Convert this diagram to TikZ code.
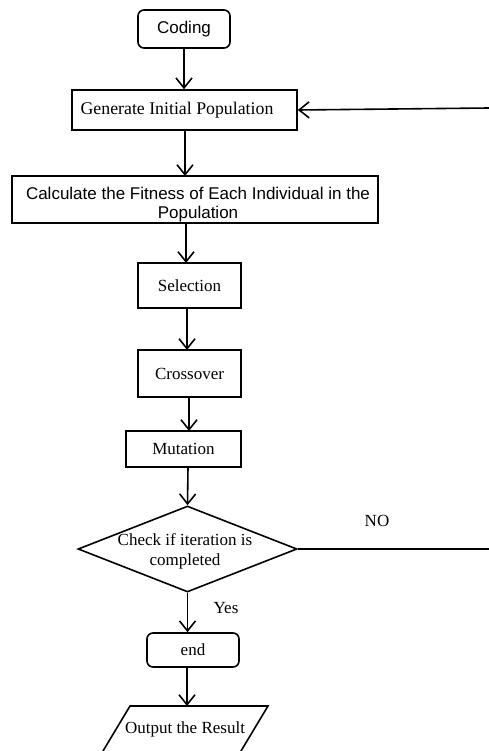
\documentclass[tikz,border=0pt]{standalone}
\usepackage{fontspec}
\setmainfont{Liberation Serif}
\setsansfont{Liberation Sans}
\usetikzlibrary{arrows.meta,shapes.geometric}
\begin{document}
\begin{tikzpicture}[x=1pt,y=-1pt,
  line width=1.6pt,
  arr/.style={-{Straight Barb[length=10pt,width=16pt,line width=1.6pt]}},
  serifbox/.style={draw,rectangle,inner sep=0pt,font=\fontsize{17}{20}\selectfont},
  sansbox/.style={draw,rectangle,inner sep=0pt,font=\sffamily\fontsize{17}{20}\selectfont},
  txt/.style={inner sep=0pt,align=center,font=\fontsize{17}{20}\selectfont},
  stxt/.style={inner sep=0pt,align=center,font=\sffamily\fontsize{17}{19}\selectfont}]
\useasboundingbox (0,0) rectangle (489,751);

% process boxes
\node[sansbox,rounded corners=6pt,minimum width=92pt,minimum height=38pt] (coding) at (184,29) {Coding};
\node[draw,rectangle,minimum width=225pt,minimum height=40pt] (gen) at (184.5,110) {};
\node[txt,font=\fontsize{17.8}{20}\selectfont] (gentext) at (177,110) {Generate Initial Population};
\node[draw,rectangle,minimum width=366pt,minimum height=47pt] (calc) at (195,199.5) {};
\node[stxt] (calctext) at (198,205) {Calculate the Fitness of Each Individual in the\\Population};
\node[serifbox,minimum width=103pt,minimum height=45pt] (sel) at (189.5,285.5) {Selection};
\node[serifbox,minimum width=103pt,minimum height=47pt] (cross) at (189.5,373.5) {Crossover};
\node[serifbox,minimum width=115pt,minimum height=36pt] (mut) at (183.5,449) {Mutation};

% decision
\node[draw,diamond,inner sep=0pt,minimum width=219pt,minimum height=86pt] (check) at (187.5,549) {};
\node[txt] (checktext) at (185,551) {Check if iteration is\\completed};

\node[serifbox,rounded corners=6pt,minimum width=92pt,minimum height=34pt] (endbox) at (193,650) {end};

% output parallelogram
\coordinate (otl) at (130,706);
\coordinate (otr) at (268,706);
\coordinate (obr) at (238,756);
\coordinate (obl) at (100,756);
\draw (otl) -- (otr) -- (obr) -- (obl) -- cycle;
\node[txt] (outtext) at (185,729) {Output the Result};
\coordinate (outtop) at (187,706);

% main flow
\draw[arr] (coding.south) -- (coding.south |- gen.north);
\draw[arr] (185,130) -- (185,176);
\draw[arr] (186,223) -- (186,263);
\draw[arr] (187,308) -- (187,350);
\draw[arr] (189,397) -- (189,431);
\draw[arr] (188,467) -- (check.north);
\draw[arr] (check.south) -- (check.south |- endbox.north);
\draw[arr] (outtop |- endbox.south) -- (outtop);

% loop back
\coordinate (noright) at (489,549);
\coordinate (backright) at (489,108);
\draw (check.east) -- (noright);
\draw[arr] (backright) -- (gen.east);

\node[txt] (nolabel) at (377,521) {NO};
\node[txt] (yeslabel) at (226,608) {Yes};
\end{tikzpicture}
\end{document}
